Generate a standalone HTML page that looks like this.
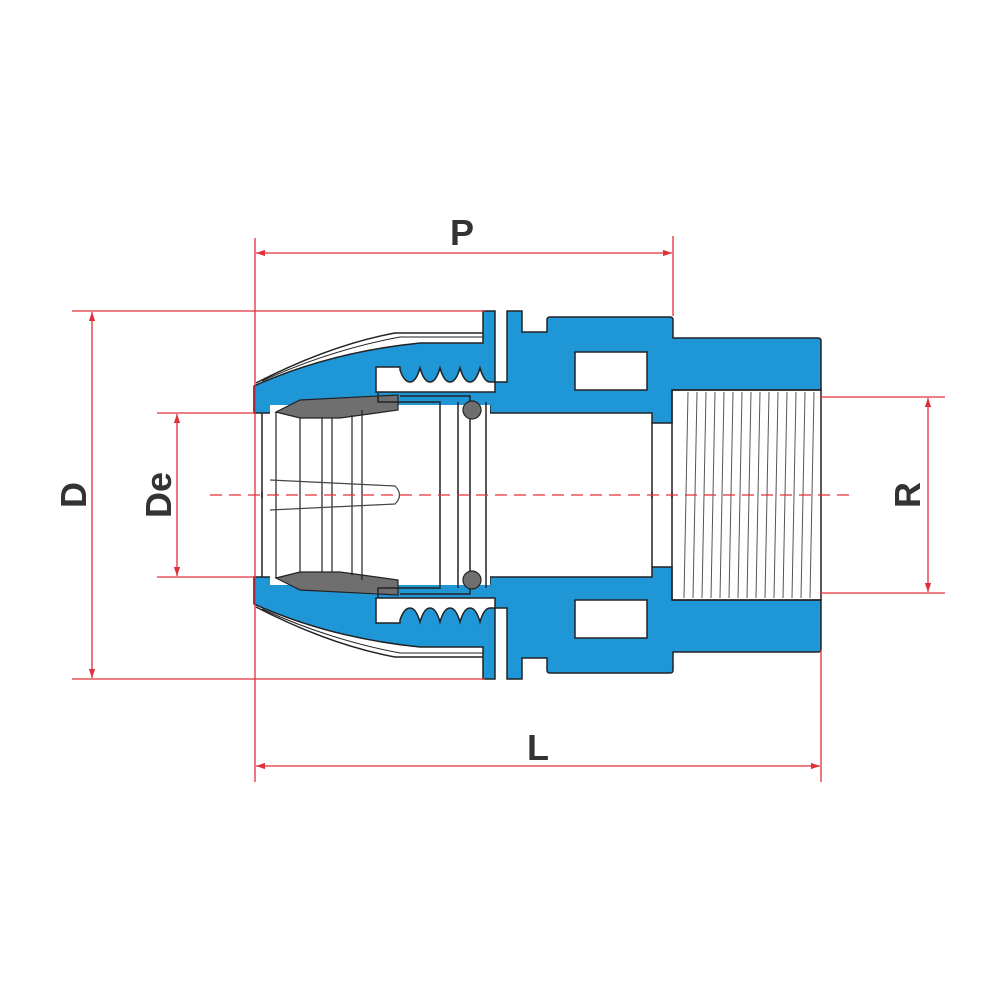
<!DOCTYPE html>
<html><head><style>html,body{margin:0;padding:0;background:#fff}svg{display:block}</style></head>
<body>
<svg width="1000" height="1000" viewBox="0 0 1000 1000" xmlns="http://www.w3.org/2000/svg">
<defs>
<marker id="a" viewBox="0 0 10 10" refX="10" refY="5" markerWidth="9" markerHeight="9" orient="auto-start-reverse" markerUnits="userSpaceOnUse"><path d="M0,1.5 L10,5 L0,8.5 Z" fill="#e0303a"/></marker>
<g id="half">
  <!-- blue body -->
  <path d="M254,413 L254,386 Q330,352 420,343 L483,343 L483,311 L495,311 L495,382 L507,382 L507,311 L522,311 L522,332 L547,332 L547,320 Q547,317 550,317 L670,317 Q673,317 673,320 L673,338 L818,338 Q821,338 821,341 L821,390 L672,390 L672,423 L652,423 L652,413 L490,413 L490,406 L360,406 L340,413 Z" fill="#1f96d6" stroke="#222" stroke-width="1.5"/>
  <!-- outer shell line -->
  <path d="M256,383 Q330,345 395,333 L483,333" fill="none" stroke="#222" stroke-width="1.5"/>
  <path d="M262,381 Q330,350 400,337 L483,337" fill="none" stroke="#222" stroke-width="1"/>
  <!-- teeth cavity -->
  <path d="M376,392 L376,367 L400,367 L400,370 Q404,382 410,382 Q416,382 420,368 Q424,382 430,382 Q436,382 440,368 Q444,382 450,382 Q456,382 460,368 Q464,382 470,382 Q476,382 480,368 Q484,382 490,382 L495,382 L495,392 Z" fill="#fff" stroke="#222" stroke-width="1.5"/>
  <!-- windows -->
  <rect x="575" y="352" width="72" height="38" fill="#fff" stroke="#222" stroke-width="1.5"/>
  <!-- inner collet region -->
  <rect x="270" y="405" width="220" height="92" fill="#fff"/>
  <path d="M276,412 L300,400 L398,395 L398,410 L340,418 L300,418 Z" fill="#6f6f6f" stroke="#222" stroke-width="1.2"/>
  <path d="M378,393 L378,402 L440,402 L440,498" fill="none" stroke="#222" stroke-width="1.5"/>
  <path d="M400,396 L470,396 L470,498" fill="none" stroke="#222" stroke-width="1.5"/>
  <path d="M458,402 L458,498 M486,402 L486,498" fill="none" stroke="#222" stroke-width="1.5"/>
  <circle cx="472" cy="410" r="9" fill="#6f6f6f" stroke="#222" stroke-width="1.2"/>
  <path d="M276,412 L276,498 M300,418 L300,498 M322,418 L322,498 M332,418 L332,498 M352,415 L352,498 M362,410 L362,498" fill="none" stroke="#222" stroke-width="1.2"/>
  <path d="M262,413 L262,498" fill="none" stroke="#222" stroke-width="1.5"/>
  <!-- bore lines -->
  <path d="M652,423 L652,498 M672,390 L672,498" fill="none" stroke="#222" stroke-width="1.5"/>
</g>
</defs>

<rect x="672" y="390" width="149" height="212" fill="#fff"/>
<use href="#half"/>
<use href="#half" transform="translate(0,990) scale(1,-1)"/>
<!-- thread lines -->
<g stroke="#555" stroke-width="1">
  <path d="M688,392 L684,598 M697,392 L693,598 M706,392 L702,598 M715,392 L711,598 M724,392 L720,598 M733,392 L729,598 M742,392 L738,598 M751,392 L747,598 M760,392 L756,598 M769,392 L765,598 M778,392 L774,598 M787,392 L783,598 M796,392 L792,598 M805,392 L801,598 M814,392 L810,598"/>
</g>
<path d="M672,390 L821,390 L821,600 L672,600" fill="none" stroke="#222" stroke-width="1.5"/>
<!-- collet slot -->
<path d="M270,480 L395,486 Q404,495 395,504 L270,510" fill="none" stroke="#444" stroke-width="1.2"/>

<!-- dimension lines -->
<g stroke="#e0303a" stroke-width="1.3" fill="none">
  <line x1="210" y1="495" x2="850" y2="495" stroke-dasharray="12,7"/>
  <line x1="255" y1="238" x2="255" y2="782"/>
  <line x1="673" y1="236" x2="673" y2="316"/>
  <line x1="821" y1="650" x2="821" y2="782"/>
  <line x1="256" y1="253" x2="672" y2="253" marker-start="url(#a)" marker-end="url(#a)"/>
  <line x1="256" y1="766" x2="820" y2="766" marker-start="url(#a)" marker-end="url(#a)"/>
  <line x1="72" y1="311" x2="485" y2="311"/>
  <line x1="72" y1="679" x2="485" y2="679"/>
  <line x1="92" y1="312" x2="92" y2="678" marker-start="url(#a)" marker-end="url(#a)"/>
  <line x1="157" y1="413" x2="255" y2="413"/>
  <line x1="157" y1="577" x2="255" y2="577"/>
  <line x1="177" y1="414" x2="177" y2="576" marker-start="url(#a)" marker-end="url(#a)"/>
  <line x1="820" y1="397" x2="945" y2="397"/>
  <line x1="820" y1="593" x2="945" y2="593"/>
  <line x1="928" y1="398" x2="928" y2="592" marker-start="url(#a)" marker-end="url(#a)"/>
</g>
<g font-family="Liberation Sans, sans-serif" font-weight="bold" font-size="36" fill="#333" text-anchor="middle">
  <text x="462" y="245">P</text>
  <text x="538" y="760">L</text>
  <text transform="translate(86,495) rotate(-90)">D</text>
  <text transform="translate(171,495) rotate(-90)">De</text>
  <text transform="translate(920,495) rotate(-90)">R</text>
</g>
</svg>
</body></html>
